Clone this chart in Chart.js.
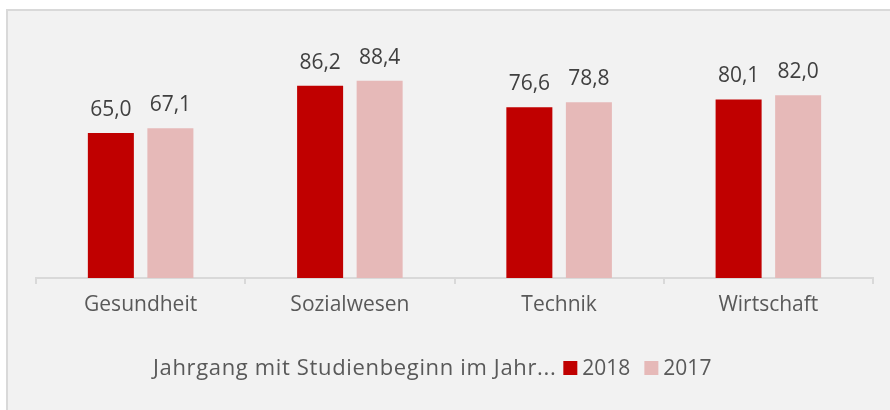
<!DOCTYPE html>
<html><head><meta charset="utf-8">
<script src="https://cdn.jsdelivr.net/npm/chart.js@4"></script>
<style>
html,body{margin:0;padding:0;background:#fff;width:890px;height:410px;overflow:hidden}
#frame{position:absolute;left:6px;top:9px;width:900px;height:420px;background:#F2F2F2;border-left:2px solid #D9D9D9;border-top:2px solid #D9D9D9}
#c{position:absolute;left:0;top:0}
</style></head>
<body>
<div id="frame"></div>
<canvas id="c" width="890" height="410"></canvas>
<script>
const categories = ["Gesundheit", "Sozialwesen", "Technik", "Wirtschaft"];
const values2018 = [65.0, 86.2, 76.6, 80.1];
const values2017 = [67.1, 88.4, 78.8, 82.0];
const seriesLabels = ["2018", "2017"];
const legendTitle = "Jahrgang mit Studienbeginn im Jahr...";

const FONT = "'Open Sans'";

const dataLabels = {
  id: 'dataLabels',
  afterDatasetsDraw(chart) {
    const ctx = chart.ctx;
    ctx.save();
    ctx.font = `21px ${FONT}`;
    ctx.fillStyle = '#404040';
    ctx.textAlign = 'center';
    ctx.textBaseline = 'alphabetic';
    chart.data.datasets.forEach((ds, i) => {
      chart.getDatasetMeta(i).data.forEach((bar, j) => {
        const txt = ds.data[j].toFixed(1).replace('.', ',');
        ctx.fillText(txt, bar.x, bar.y - 17);
      });
    });
    ctx.restore();
  }
};

const inlineLegend = {
  id: 'inlineLegend',
  afterDraw(chart) {
    const ctx = chart.ctx;
    ctx.save();
    ctx.textBaseline = 'alphabetic';
    ctx.textAlign = 'left';
    const baseY = 375, box = 14;
    let x = 153;
    ctx.font = `22px ${FONT}`;
    if ('letterSpacing' in ctx) ctx.letterSpacing = '0.65px';
    ctx.fillStyle = '#595959';
    ctx.fillText(legendTitle, x, baseY);
    x += ctx.measureText(legendTitle).width + 7;
    if ('letterSpacing' in ctx) ctx.letterSpacing = '0px';
    ctx.font = `21px ${FONT}`;
    chart.data.datasets.forEach((ds, i) => {
      ctx.fillStyle = ds.backgroundColor;
      ctx.fillRect(x, baseY - box, box, box);
      x += box + 5;
      ctx.fillStyle = '#595959';
      ctx.fillText(ds.label, x, baseY);
      x += ctx.measureText(ds.label).width + 14;
    });
    ctx.restore();
  }
};

new Chart(document.getElementById('c'), {
  type: 'bar',
  data: {
    labels: categories,
    datasets: [
      { label: seriesLabels[0], data: values2018, backgroundColor: '#C00000' },
      { label: seriesLabels[1], data: values2017, backgroundColor: '#E6B9B8' }
    ]
  },
  options: {
    responsive: false,
    devicePixelRatio: 1,
    animation: false,
    layout: { padding: { left: 36, right: 17, top: 55, bottom: 72 } },
    categoryPercentage: 0.569,
    barPercentage: 0.773,
    plugins: { legend: { display: false }, tooltip: { enabled: false } },
    scales: {
      y: { display: false, min: 0, max: 100 },
      x: {
        afterFit: s => { s.height = 60; },
        grid: { display: true, drawOnChartArea: false, drawTicks: true, tickLength: 6, color: '#D9D9D9', lineWidth: 2, offset: true },
        border: { display: true, color: '#D9D9D9', width: 2 },
        ticks: { color: '#595959', font: { family: "Open Sans", size: 21 }, padding: 8 }
      }
    }
  },
  plugins: [dataLabels, inlineLegend]
});
</script>
</body></html>
